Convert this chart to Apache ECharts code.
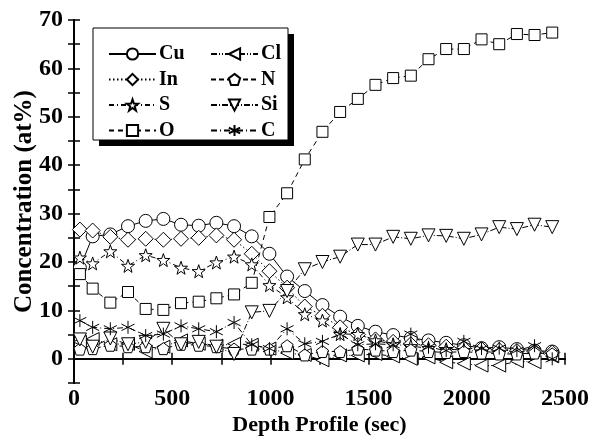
<!DOCTYPE html>
<html><head><meta charset="utf-8">
<script src="https://cdn.jsdelivr.net/npm/echarts@6/dist/echarts.min.js"></script>
<style>html,body{margin:0;padding:0;background:#fff}#c{width:597px;height:446px}</style>
</head><body><div id="c"></div>
<script>
const depth = [30, 95, 185, 275, 365, 455, 545, 635, 725, 815, 905, 995, 1085, 1175, 1265, 1355, 1445, 1535, 1625, 1715, 1805, 1895, 1985, 2075, 2165, 2255, 2345, 2435];
const cu = [18.8, 25.3, 25.7, 27.4, 28.5, 28.9, 27.7, 27.5, 28.1, 27.4, 25.3, 21.7, 17.0, 14.0, 11.1, 8.7, 6.8, 5.6, 4.9, 4.3, 3.8, 3.3, 2.8, 2.2, 2.4, 2.0, 1.7, 1.5];
const inn = [26.7, 26.5, 25.2, 24.6, 24.8, 24.6, 24.8, 25.0, 25.5, 24.6, 21.7, 18.1, 14.7, 10.8, 8.9, 6.5, 5.0, 4.0, 3.5, 3.0, 2.8, 2.5, 2.2, 2.0, 1.8, 1.6, 1.5, 1.3];
const s = [20.9, 19.7, 22.2, 19.2, 21.4, 20.4, 18.8, 18.1, 19.9, 21.1, 19.5, 15.2, 12.7, 9.2, 7.9, 5.1, 5.1, 3.8, 3.0, 2.6, 2.2, 2.0, 1.8, 1.5, 1.3, 1.2, 1.0, 0.9];
const o = [17.5, 14.5, 11.6, 13.8, 10.3, 10.1, 11.5, 11.8, 12.5, 13.3, 15.7, 29.3, 34.2, 41.2, 46.9, 51.0, 53.7, 56.6, 58.0, 58.5, 61.9, 64.0, 64.0, 66.0, 65.0, 67.1, 66.9, 67.4];
const cl = [3.5, 4.1, 3.0, 3.1, 1.5, 2.5, 3.8, 3.1, 2.7, 3.1, 2.9, 2.1, 1.2, 0.8, -0.3, 0.7, 0.7, 1.0, 0.5, 0.0, 0.3, -0.7, -1.0, -1.4, -1.4, -0.5, -0.7, 0.5];
const n = [2.0, 2.1, 2.8, 2.5, 2.5, 2.1, 3.0, 2.8, 2.5, 2.0, 2.0, 2.0, 2.7, 0.8, 1.5, 1.5, 2.0, 1.8, 1.5, 1.8, 1.5, 1.3, 1.5, 1.2, 1.0, 1.0, 1.2, 1.0];
const si = [4.0, 2.5, 4.2, 3.0, 3.5, 6.2, 3.0, 3.5, 2.5, 1.0, 9.6, 9.9, 14.0, 18.5, 20.0, 21.1, 23.6, 23.6, 25.2, 24.8, 25.5, 25.4, 24.8, 25.7, 27.2, 26.8, 27.7, 27.2];
const c = [7.9, 6.5, 6.2, 6.5, 4.8, 5.1, 6.8, 6.2, 5.6, 7.5, 2.9, 2.1, 6.2, 3.1, 3.6, 5.1, 2.9, 3.1, 2.9, 5.1, 2.4, 1.7, 3.6, 2.1, 2.2, 1.7, 2.7, 0.0];
const yTicks = [0, 10, 20, 30, 40, 50, 60, 70];
const xTicks = [0, 500, 1000, 1500, 2000, 2500];

const FONT = '"Liberation Serif","Times New Roman",serif';
const STAR = 'path://M0,-10L2.35,-3.24L9.51,-3.09L3.8,1.24L5.88,8.09L0,4L-5.88,8.09L-3.8,1.24L-9.51,-3.09L-2.35,-3.24Z';
const PENT = 'path://M0,-10L9.51,-3.09L5.88,8.09L-5.88,8.09L-9.51,-3.09Z';
const AST = 'path://M0,-10L0,10M-8.66,-5L8.66,5M-8.66,5L8.66,-5';

function mk(name, vals, symbol, type, rot, size) {
  return {
    name, type: 'line', data: depth.map((x, i) => [x, vals[i]]),
    symbol, symbolSize: size, symbolRotate: rot,
    showAllSymbol: true,
    lineStyle: { color: '#000', width: 1, type },
    itemStyle: { color: '#fff', borderColor: '#000', borderWidth: 1 },
    emphasis: { disabled: true }, animation: false
  };
}
const series = [
  mk('Cu', cu, 'circle', 'solid', 0, 13),
  mk('In', inn, 'diamond', [1.5, 2.5], 0, 15),
  mk('S', s, STAR, [5, 3, 1, 3], 0, 13),
  mk('O', o, 'rect', [5, 4], 0, 11),
  mk('Cl', cl, 'triangle', [6, 2, 1, 2, 1, 2], 90, 13),
  mk('N', n, PENT, [5, 3], 0, 12),
  mk('Si', si, 'triangle', [6, 2, 1, 2], 180, 13),
  mk('C', c, AST, [6, 3, 1, 3], 0, 13)
];
const tickStyle = { color: '#000', fontFamily: FONT, fontWeight: 'bold', fontSize: 24 };
const legBase = {
  orient: 'vertical', itemWidth: 47, itemHeight: 14, itemGap: 5.5,
  textStyle: { color: '#000', fontFamily: FONT, fontWeight: 'bold', fontSize: 20, padding: [0, 0, 0, -2] },
  selectedMode: false, top: 44, padding: 0, z: 10
};
const frame = { lineStyle: { color: '#000', width: 1.8 } };
const ticks = { inside: true, length: 6, lineStyle: { color: '#000', width: 1.5 } };
const chart = echarts.init(document.getElementById('c'));
chart.setOption({
  animation: false,
  backgroundColor: '#fff',
  grid: { left: 74, right: 32, top: 20, bottom: 63, containLabel: false, outerBoundsMode: 'none' },
  xAxis: [{
    type: 'value', min: 0, max: 2500, interval: 250,
    name: 'Depth Profile (sec)', nameLocation: 'middle', nameGap: 31, nameMoveOverlap: false,
    nameTextStyle: { ...tickStyle, fontSize: 22 },
    axisLine: frame, axisTick: ticks,
    axisLabel: { ...tickStyle, margin: 4, formatter: v => xTicks.includes(v) ? String(v) : '' },
    splitLine: { show: false }
  }, {
    type: 'value', min: 0, max: 2500, interval: 250, position: 'top',
    axisLine: frame, axisTick: ticks,
    axisLabel: { show: false }, splitLine: { show: false }
  }],
  yAxis: [{
    type: 'value', min: -5, max: 70, interval: 5,
    name: 'Concentration (at%)', nameLocation: 'middle', nameGap: 37, nameMoveOverlap: false,
    nameTextStyle: { ...tickStyle, fontSize: 25 },
    axisLine: frame, axisTick: ticks,
    axisLabel: { ...tickStyle, margin: 11, formatter: v => yTicks.includes(v) ? String(v) : '' },
    splitLine: { show: false }
  }, {
    type: 'value', min: -5, max: 70, interval: 5, position: 'right',
    axisLine: frame, axisTick: ticks,
    axisLabel: { show: false }, splitLine: { show: false }
  }],
  legend: [
    { ...legBase, left: 108, data: ['Cu', 'In', 'S', 'O'] },
    { ...legBase, left: 210, data: ['Cl', 'N', 'Si', 'C'] }
  ],
  graphic: [
    { id: 'shadow', type: 'rect', z: 5, shape: { x: 99, y: 34, width: 195, height: 112 }, style: { fill: '#000', stroke: null } },
    { id: 'box', type: 'rect', z: 6, shape: { x: 93, y: 28, width: 195, height: 112 }, style: { fill: '#fff', stroke: '#000', lineWidth: 1 } }
  ],
  series
});
</script></body></html>
